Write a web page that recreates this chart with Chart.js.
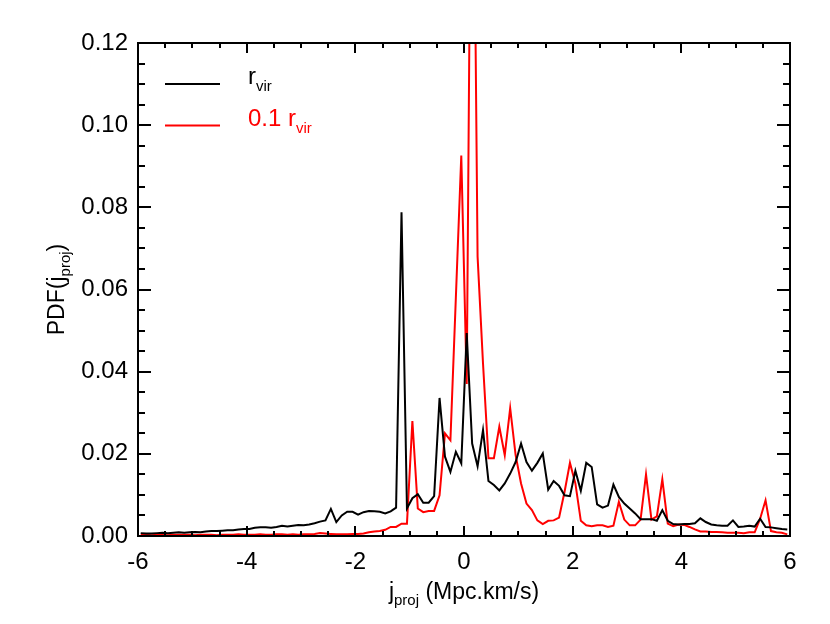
<!DOCTYPE html>
<html>
<head>
<meta charset="utf-8">
<script src="https://cdn.jsdelivr.net/npm/chart.js@4.4.1/dist/chart.umd.min.js"></script>
<style>
  html, body { margin: 0; padding: 0; background: #fff; }
  #wrap { width: 830px; height: 624px; }
</style>
</head>
<body>
<div id="wrap"><canvas id="pdfChart" width="830" height="624"></canvas></div>
<script>
const FONT = "'Liberation Sans', Arial, Helvetica, sans-serif";

// bin centres of j_proj (Mpc.km/s)
const jProj = [
  -5.95, -5.85, -5.75, -5.65, -5.55, -5.45, -5.35, -5.25, -5.15, -5.05,
  -4.95, -4.85, -4.75, -4.65, -4.55, -4.45, -4.35, -4.25, -4.15, -4.05,
  -3.95, -3.85, -3.75, -3.65, -3.55, -3.45, -3.35, -3.25, -3.15, -3.05,
  -2.95, -2.85, -2.75, -2.65, -2.55, -2.45, -2.35, -2.25, -2.15, -2.05,
  -1.95, -1.85, -1.75, -1.65, -1.55, -1.45, -1.35, -1.25, -1.15, -1.05,
  -0.95, -0.85, -0.75, -0.65, -0.55, -0.45, -0.35, -0.25, -0.15, -0.05,
  0.05, 0.15, 0.25, 0.35, 0.45, 0.55, 0.65, 0.75, 0.85, 0.95,
  1.05, 1.15, 1.25, 1.35, 1.45, 1.55, 1.65, 1.75, 1.85, 1.95,
  2.05, 2.15, 2.25, 2.35, 2.45, 2.55, 2.65, 2.75, 2.85, 2.95,
  3.05, 3.15, 3.25, 3.35, 3.45, 3.55, 3.65, 3.75, 3.85, 3.95,
  4.05, 4.15, 4.25, 4.35, 4.45, 4.55, 4.65, 4.75, 4.85, 4.95,
  5.05, 5.15, 5.25, 5.35, 5.45, 5.55, 5.65, 5.75, 5.85, 5.95
];

// PDF within r_vir (black)
const pdfRvir = [
  0.0007, 0.0006, 0.0006, 0.0007, 0.0008, 0.0007, 0.0008, 0.0009, 0.0008, 0.0009,
  0.0010, 0.0009, 0.0011, 0.0012, 0.0012, 0.0013, 0.0014, 0.0014, 0.0016, 0.0017,
  0.0017, 0.0020, 0.0021, 0.0021, 0.0020, 0.0022, 0.0025, 0.0023, 0.0025, 0.0027,
  0.0026, 0.0028, 0.0031, 0.0035, 0.0038, 0.0066, 0.0034, 0.0050, 0.0059, 0.0059,
  0.0052, 0.0058, 0.0061, 0.0060, 0.0059, 0.0055, 0.0060, 0.0069, 0.0788, 0.0067,
  0.0092, 0.0102, 0.0081, 0.0081, 0.0097, 0.0336, 0.0193, 0.0156, 0.0205, 0.0177,
  0.0494, 0.0225, 0.0170, 0.0258, 0.0134, 0.0124, 0.0111, 0.0128, 0.0152, 0.0180,
  0.0225, 0.0180, 0.0159, 0.0178, 0.0201, 0.0113, 0.0134, 0.0122, 0.0099, 0.0097,
  0.0159, 0.0110, 0.0178, 0.0168, 0.0077, 0.0069, 0.0074, 0.0125, 0.0095, 0.0079,
  0.0067, 0.0055, 0.0041, 0.0041, 0.0041, 0.0037, 0.0063, 0.0037, 0.0029, 0.0028,
  0.0029, 0.0029, 0.0031, 0.0043, 0.0034, 0.0028, 0.0026, 0.0025, 0.0025, 0.0038,
  0.0022, 0.0023, 0.0025, 0.0023, 0.0042, 0.0022, 0.0021, 0.0019, 0.0017, 0.0016
];

// PDF within 0.1 r_vir (red)
const pdfTenthRvir = [
  0.0003, 0.0003, 0.0002, 0.0003, 0.0003, 0.0002, 0.0003, 0.0003, 0.0003, 0.0003,
  0.0002, 0.0003, 0.0003, 0.0003, 0.0002, 0.0003, 0.0003, 0.0003, 0.0004, 0.0003,
  0.0003, 0.0003, 0.0004, 0.0003, 0.0003, 0.0004, 0.0004, 0.0003, 0.0004, 0.0003,
  0.0004, 0.0004, 0.0005, 0.0007, 0.0006, 0.0005, 0.0004, 0.0004, 0.0004, 0.0005,
  0.0005, 0.0006, 0.0009, 0.0011, 0.0012, 0.0015, 0.0022, 0.0022, 0.0030, 0.0030,
  0.0280, 0.0067, 0.0058, 0.0061, 0.0061, 0.0099, 0.0250, 0.0233, 0.0580, 0.0926,
  0.0370, 0.2100, 0.0680, 0.0420, 0.0189, 0.0189, 0.0266, 0.0197, 0.0311, 0.0197,
  0.0128, 0.0079, 0.0063, 0.0038, 0.0029, 0.0037, 0.0038, 0.0045, 0.0107, 0.0178,
  0.0128, 0.0037, 0.0026, 0.0024, 0.0026, 0.0026, 0.0022, 0.0025, 0.0083, 0.0040,
  0.0026, 0.0026, 0.0040, 0.0150, 0.0040, 0.0048, 0.0138, 0.0030, 0.0024, 0.0028,
  0.0027, 0.0022, 0.0016, 0.0011, 0.0011, 0.0010, 0.0010, 0.0009, 0.0008, 0.0008,
  0.0008, 0.0007, 0.0009, 0.0009, 0.0042, 0.0087, 0.0012, 0.0009, 0.0008, 0.0004
];

const xTicks = [-6, -4, -2, 0, 2, 4, 6];
const yTicks = [0, 0.02, 0.04, 0.06, 0.08, 0.10, 0.12];
const xMinorStep = 0.5;
const yMinorStep = 0.005;

// draw a run of text pieces, some of them subscripts
function drawRuns(ctx, runs, x, y, align) {
    let total = 0;
    runs.forEach(r => {
        ctx.font = r.size + 'px ' + FONT;
        r.w = ctx.measureText(r.t).width;
        total += r.w;
    });
    let cx = align === 'center' ? x - total / 2 : x;
    ctx.textAlign = 'left';
    ctx.textBaseline = 'alphabetic';
    runs.forEach(r => {
        ctx.font = r.size + 'px ' + FONT;
        ctx.fillStyle = r.color || '#000';
        ctx.fillText(r.t, cx, y + (r.dy || 0));
        cx += r.w;
    });
}

// IDL style box with inward ticks on all four sides
const boxTicks = {
    id: 'boxTicks',
    afterDatasetsDraw(chart) {
        const { ctx, chartArea: a, scales: { x, y } } = chart;
        ctx.save();
        ctx.strokeStyle = '#000';
        ctx.lineWidth = 2;
        ctx.strokeRect(a.left, a.top, a.right - a.left, a.bottom - a.top);
        ctx.beginPath();
        for (let v = x.min; v <= x.max + 1e-9; v += xMinorStep) {
            const px = Math.round(x.getPixelForValue(v));
            const len = xTicks.includes(Math.round(v * 100) / 100) ? 10 : 5;
            ctx.moveTo(px, a.bottom); ctx.lineTo(px, a.bottom - len);
            ctx.moveTo(px, a.top); ctx.lineTo(px, a.top + len);
        }
        for (let i = 0; i <= Math.round((y.max - y.min) / yMinorStep); i++) {
            const v = y.min + i * yMinorStep;
            const py = Math.round(y.getPixelForValue(v));
            const len = i % 4 === 0 ? 13 : 7;
            ctx.moveTo(a.left, py); ctx.lineTo(a.left + len, py);
            ctx.moveTo(a.right, py); ctx.lineTo(a.right - len, py);
        }
        ctx.stroke();
        ctx.restore();
    }
};

// axis titles and legend with subscripts
const labels = {
    id: 'labels',
    afterDraw(chart) {
        const { ctx, chartArea: a } = chart;
        ctx.save();
        const midX = (a.left + a.right) / 2;
        drawRuns(ctx, [
            { t: 'j', size: 23 },
            { t: 'proj', size: 15, dy: 6 },
            { t: ' (Mpc.km/s)', size: 23 }
        ], midX, 599, 'center');

        ctx.translate(64, (a.top + a.bottom) / 2);
        ctx.rotate(-Math.PI / 2);
        drawRuns(ctx, [
            { t: 'PDF(j', size: 23 },
            { t: 'proj', size: 15, dy: 6 },
            { t: ')', size: 23 }
        ], 0, 0, 'center');
        ctx.restore();

        ctx.save();
        const legend = [
            { color: '#000', y: 84, runs: [{ t: 'r', size: 24 }, { t: 'vir', size: 15, dy: 7 }] },
            { color: '#ff0000', y: 125.5, runs: [{ t: '0.1 r', size: 24 }, { t: 'vir', size: 15, dy: 7 }] }
        ];
        legend.forEach(item => {
            ctx.strokeStyle = item.color;
            ctx.lineWidth = 2;
            ctx.beginPath();
            ctx.moveTo(a.left + 27, item.y);
            ctx.lineTo(a.left + 82, item.y);
            ctx.stroke();
            item.runs.forEach(r => r.color = item.color);
            drawRuns(ctx, item.runs, a.left + 110, item.y, 'left');
        });
        ctx.restore();
    }
};

const toPoints = arr => arr.map((v, i) => ({ x: jProj[i], y: v }));

new Chart(document.getElementById('pdfChart'), {
    type: 'line',
    data: {
        datasets: [
            {
                label: 'r_vir',
                data: toPoints(pdfRvir),
                borderColor: '#000',
                borderWidth: 2,
                pointRadius: 0,
                tension: 0
            },
            {
                label: '0.1 r_vir',
                data: toPoints(pdfTenthRvir),
                borderColor: '#ff0000',
                borderWidth: 2,
                pointRadius: 0,
                tension: 0
            }
        ]
    },
    options: {
        responsive: false,
        devicePixelRatio: 1,
        animation: false,
        layout: { padding: { top: 43, right: 40, left: 0, bottom: 0 } },
        plugins: {
            legend: { display: false },
            title: { display: false },
            tooltip: { enabled: false }
        },
        scales: {
            x: {
                type: 'linear',
                min: -6,
                max: 6,
                afterBuildTicks: s => { s.ticks = xTicks.map(v => ({ value: v })); },
                afterFit: s => { s.height = 88; },
                grid: { display: false, drawTicks: false },
                border: { display: false },
                ticks: {
                    color: '#000',
                    padding: 12,
                    maxRotation: 0,
                    font: { family: FONT, size: 24 },
                    callback: v => String(v)
                }
            },
            y: {
                min: 0,
                max: 0.12,
                afterBuildTicks: s => { s.ticks = yTicks.map(v => ({ value: v })); },
                afterFit: s => { s.width = 138; },
                grid: { display: false, drawTicks: false },
                border: { display: false },
                ticks: {
                    color: '#000',
                    padding: 10,
                    font: { family: FONT, size: 24 },
                    callback: v => Number(v).toFixed(2)
                }
            }
        }
    },
    plugins: [boxTicks, labels]
});
</script>
</body>
</html>
